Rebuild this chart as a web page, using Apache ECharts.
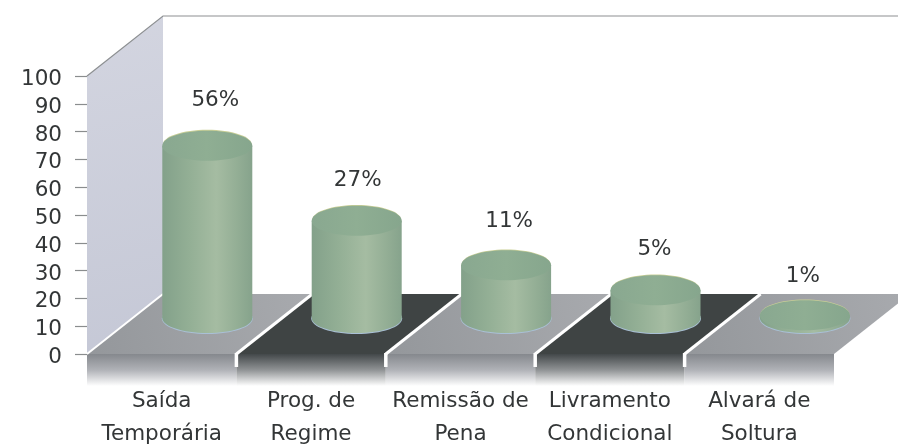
<!DOCTYPE html>
<html>
<head>
<meta charset="utf-8">
<style>
  html, body { margin: 0; padding: 0; background: #fff; }
  #chart { width: 898px; height: 445px; }
</style>
</head>
<body>
<div id="chart"></div>
<script src="https://cdn.jsdelivr.net/npm/echarts@6/dist/echarts.min.js"></script>
<script>
// categories and values
var categories = ["Saída\nTemporária", "Prog. de\nRegime", "Remissão de\nPena", "Livramento\nCondicional", "Alvará de\nSoltura"];
var percents = [56, 27, 11, 5, 1];
// drawn height of each cylinder read against the axis (picture draws them a bit taller than the labels say)
var drawnHeights = [62, 35, 19, 10, 1];
var yTicks = [0, 100, 10];

var FONT = "DejaVu Sans";
var FONT_SIZE = 21.5;
var TEXT = "#333637";
var DEPTH_X = 76, DEPTH_Y = -60; // floor / wall depth in px
var BAR_DEPTH = 0.6; // cylinders stand 60% of the way back
var RX = 45, RY = 15;
// the % labels are not placed evenly in the picture
var LABEL_GAP = [30, 25, 29, 26, 24];
var LABEL_DX = [8, 1, 3, -1, -2];

var linear = function (x, y, x2, y2, stops) {
  return new echarts.graphic.LinearGradient(x, y, x2, y2, stops.map(function (c) {
    return { offset: c[0], color: c[1] };
  }));
};

function renderWall(params, api) {
  var w = api.size([1, 0])[0];
  var x0 = api.coord([0, 0])[0] - w / 2;
  var y0 = api.coord([0, 0])[1];
  var y100 = api.coord([0, 100])[1];
  return {
    type: "group",
    children: [
      {
        type: "polygon",
        shape: { points: [[x0, y100], [x0 + DEPTH_X, y100 + DEPTH_Y], [x0 + DEPTH_X, y0 + DEPTH_Y], [x0, y0]] },
        style: { fill: linear(0, 0, 1, 1, [[0, "#d3d5e0"], [1, "#c5c8d6"]]) },
      },
      {
        type: "polyline",
        shape: { points: [[x0, y100], [x0 + DEPTH_X, y100 + DEPTH_Y], [api.getWidth(), y100 + DEPTH_Y]] },
        style: { fill: null, stroke: "#8d9092", lineWidth: 1.2 },
      },
    ],
  };
}

function renderFloor(params, api) {
  var i = api.value(0);
  var w = api.size([1, 0])[0];
  var c = api.coord([i, 0]);
  var x0 = c[0] - w / 2, y0 = c[1];
  var dark = i % 2 === 1;
  var children = [
    {
      type: "polygon",
      shape: { points: [[x0, y0], [x0 + DEPTH_X, y0 + DEPTH_Y], [x0 + w + DEPTH_X, y0 + DEPTH_Y], [x0 + w, y0]] },
      style: { fill: dark ? "#3f4444" : linear(0, 1, 1, 0, [[0, "#94979b"], [1, "#a8aaae"]]) },
    },
    {
      type: "rect",
      shape: { x: x0, y: y0, width: w, height: 32 },
      style: {
        fill: linear(0, 0, 0, 1, dark
          ? [[0, "#43484a"], [0.5, "#909395"], [1, "#ffffff"]]
          : [[0, "#85888d"], [0.5, "#b0b2b7"], [1, "#ffffff"]]),
      },
    },
    {
      type: "line",
      shape: { x1: x0, y1: y0, x2: x0 + DEPTH_X, y2: y0 + DEPTH_Y },
      style: { stroke: "#ffffff", lineWidth: i === 0 ? 2 : 3 },
    },
  ];
  if (i > 0) {
    children.push({
      type: "line",
      shape: { x1: x0, y1: y0 - 1, x2: x0, y2: y0 + 13 },
      style: { stroke: "#ffffff", lineWidth: 3.5 },
    });
  }
  return { type: "group", children: children };
}

function renderCylinder(params, api) {
  var i = api.value(0);
  var h = api.value(1);
  var base = api.coord([i, 0]);
  var top = api.coord([i, h]);
  var cx = base[0] + DEPTH_X * BAR_DEPTH;
  var yb = base[1] + DEPTH_Y * BAR_DEPTH;
  var yt = top[1] + DEPTH_Y * BAR_DEPTH;
  var side = linear(0, 0, 1, 0, [[0, "#83a18a"], [0.3, "#93af95"], [0.6, "#a5bca2"], [0.85, "#92ad94"], [1, "#86a38c"]]);
  return {
    type: "group",
    children: [
      // rim highlights under and behind
      { type: "ellipse", shape: { cx: cx, cy: yb + 0.5, rx: RX + 0.5, ry: RY + 0.5 }, style: { fill: "#a9c0d6" } },
      { type: "ellipse", shape: { cx: cx, cy: yb, rx: RX, ry: RY }, style: { fill: side } },
      { type: "rect", shape: { x: cx - RX, y: yt, width: RX * 2, height: yb - yt }, style: { fill: side } },
      { type: "ellipse", shape: { cx: cx, cy: yt - 0.8, rx: RX - 0.5, ry: RY }, style: { fill: "#c9cf96" } },
      { type: "ellipse", shape: { cx: cx, cy: yt, rx: RX, ry: RY }, style: { fill: linear(0, 0, 1, 0, [[0, "#89a890"], [0.5, "#8fae93"], [1, "#86a68d"]]) } },
      {
        type: "text",
        style: {
          x: cx + LABEL_DX[i], y: yt - RY - LABEL_GAP[i],
          text: api.value(2) + "%",
          fill: TEXT, font: FONT_SIZE + "px " + FONT,
          align: "center", verticalAlign: "middle",
        },
      },
    ],
  };
}

var myChart = echarts.init(document.getElementById("chart"), null, { width: 898, height: 445 });

myChart.setOption({
  animation: false,
  backgroundColor: "#ffffff",
  grid: { left: 87, top: 76, width: 747, height: 278, containLabel: false, outerBoundsMode: "none" },
  xAxis: {
    type: "category",
    data: categories,
    axisLine: { show: false },
    axisTick: { show: false },
    splitLine: { show: false },
    axisLabel: {
      interval: 0,
      margin: 31,
      color: TEXT,
      fontFamily: FONT,
      fontSize: FONT_SIZE,
      lineHeight: 33,
    },
  },
  yAxis: {
    type: "value",
    min: yTicks[0],
    max: yTicks[1],
    interval: yTicks[2],
    axisLine: { show: false },
    axisTick: { show: true, length: 12, lineStyle: { color: "#8a8d8e", width: 1.2 } },
    splitLine: { show: false },
    axisLabel: {
      margin: 25,
      formatter: "{low|{value}}",
      rich: { low: { padding: [7, 0, 0, 0], color: TEXT, fontFamily: FONT, fontSize: FONT_SIZE } },
    },
  },
  series: [
    { name: "wall", type: "custom", clip: false, silent: true, z: 1, renderItem: renderWall, data: [[0]] },
    {
      name: "floor", type: "custom", clip: false, silent: true, z: 2, renderItem: renderFloor,
      data: categories.map(function (c, i) { return [i]; }),
    },
    {
      name: "Percentual", type: "custom", clip: false, z: 3, renderItem: renderCylinder,
      encode: { x: 0, y: 1 },
      data: categories.map(function (c, i) { return [i, drawnHeights[i], percents[i]]; }),
    },
  ],
});
</script>
</body>
</html>
